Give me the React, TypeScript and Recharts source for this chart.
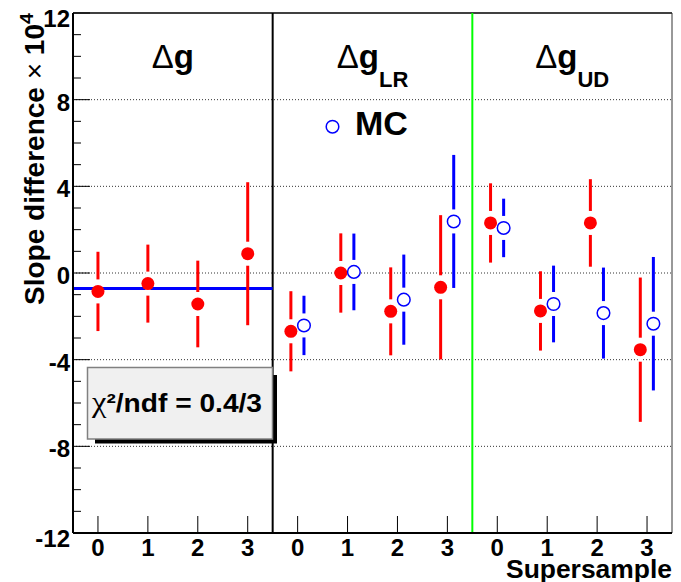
import React from 'react';
import {
    CartesianGrid,
    ErrorBar,
    ReferenceLine,
    Scatter,
    ScatterChart,
    XAxis,
    YAxis,
} from 'recharts';

// positions 0..11 on the x axis, four supersamples per panel
const samplePositions = [0, 1, 2, 3, 4, 5, 6, 7, 8, 9, 10, 11];
const sampleLabels = ['0', '1', '2', '3'];
const panelSubscripts = ['', 'LR', 'UD'];
const panelCenters = [1.5, 5.5, 9.5];
const panelEdges = [3.5, 7.5];

// data (red, filled)
const dataValues = [-0.85, -0.49, -1.43, 0.89, -2.69, 0.0, -1.77, -0.66, 2.31, -1.75, 2.31, -3.54];
const dataErrors = [1.83, 1.8, 2.0, 3.3, 1.85, 1.83, 2.03, 3.33, 1.83, 1.83, 2.02, 3.33];

// MC (blue, open) only in the LR and UD panels
const mcPositions = [4, 5, 6, 7, 8, 9, 10, 11];
const mcValues = [-2.42, 0.05, -1.23, 2.38, 2.08, -1.43, -1.85, -2.34];
const mcErrors = [1.37, 1.77, 2.08, 3.07, 1.35, 1.77, 2.1, 3.08];

const fitValue = -0.72;
const gridValues = [-8, -4, 0, 4, 8];
const yTicks = [
    -12, -11, -10, -9, -8, -7, -6, -5, -4, -3, -2, -1, 0, 1, 2, 3, 4, 5, 6, 7, 8, 9, 10, 11, 12,
];

const W = 681;
const H = 582;
const LEFT = 73;
const TOP = 13;
const RIGHT = 672;
const BOTTOM = 533;
const FONT = '"Liberation Sans", Arial, Helvetica, sans-serif';

const RED = '#ff0000';
const BLUE = '#0000ff';

const dataPoints = samplePositions.map((p, i) => ({
    x: p < 4 ? p : p - 0.135,
    y: dataValues[i],
    err: dataErrors[i],
}));

const mcPoints = mcPositions.map((p, i) => ({
    x: p + 0.127,
    y: mcValues[i],
    err: mcErrors[i],
}));

const toPx = (v: number) => LEFT + ((v + 0.5) / 12) * (RIGHT - LEFT);

const RedDot = (props: any) => {
    const { cx, cy } = props;
    return (
        <g>
            <rect x={cx - 2.5} y={cy - 12} width={5} height={24} fill="#fff" />
            <circle cx={cx} cy={cy} r={6.5} fill={RED} />
        </g>
    );
};

const BlueDot = (props: any) => {
    const { cx, cy } = props;
    return (
        <g>
            <rect x={cx - 2.5} y={cy - 12} width={5} height={24} fill="#fff" />
            <circle cx={cx} cy={cy} r={6.3} fill="#fff" stroke={BLUE} strokeWidth={1.5} />
        </g>
    );
};

const YTick = (props: any) => {
    const { x, y, payload } = props;
    const v = payload.value;
    const major = v % 4 === 0;
    const dy = Math.abs(v) === 12 ? 14 : 11;
    return (
        <g>
            <line x1={x} y1={y} x2={x + (major ? 17 : 8)} y2={y} stroke="#000" strokeWidth={1} />
            {major && (
                <text
                    x={x - 3}
                    y={y + dy}
                    textAnchor="end"
                    fontFamily={FONT}
                    fontWeight="bold"
                    fontSize={24}
                    fill="#000"
                >
                    {v}
                </text>
            )}
        </g>
    );
};

const XTick = (props: any) => {
    const { x, y, payload } = props;
    return (
        <g>
            <line x1={x} y1={y} x2={x} y2={y - 17} stroke="#000" strokeWidth={1} />
            <text
                x={x}
                y={y + 23}
                textAnchor="middle"
                fontFamily={FONT}
                fontWeight="bold"
                fontSize={24}
                fill="#000"
            >
                {sampleLabels[payload.value % 4]}
            </text>
        </g>
    );
};

export default function App() {
    return (
        <div style={{ position: 'absolute', left: 0, top: 0, width: W, height: H, background: '#fff' }}>
            <ScatterChart
                width={W}
                height={H}
                margin={{ top: TOP, right: W - RIGHT, bottom: 0, left: 0 }}
            >
                <CartesianGrid
                    vertical={false}
                    horizontalValues={gridValues}
                    stroke="#333"
                    strokeDasharray="1 2"
                />
                <XAxis
                    type="number"
                    dataKey="x"
                    domain={[-0.5, 11.5]}
                    ticks={samplePositions}
                    interval={0}
                    tick={(p: any) => <XTick {...p} />}
                    tickLine={false}
                    tickSize={0}
                    tickMargin={0}
                    height={H - BOTTOM}
                    axisLine={{ stroke: '#000', strokeWidth: 2 }}
                    allowDataOverflow
                />
                <YAxis
                    type="number"
                    dataKey="y"
                    domain={[-12, 12]}
                    ticks={yTicks}
                    interval={0}
                    tick={(p: any) => <YTick {...p} />}
                    tickLine={false}
                    tickSize={0}
                    tickMargin={0}
                    width={LEFT}
                    axisLine={{ stroke: '#000', strokeWidth: 2 }}
                    allowDataOverflow
                />
                <ReferenceLine y={12} stroke="#000" strokeWidth={1.5} />
                <ReferenceLine x={11.5} stroke="#333" strokeWidth={1} />
                <ReferenceLine x={panelEdges[0]} stroke="#000" strokeWidth={2} />
                <ReferenceLine x={panelEdges[1]} stroke="#00ff00" strokeWidth={2} />
                <ReferenceLine
                    segment={[
                        { x: -0.5, y: fitValue },
                        { x: panelEdges[0], y: fitValue },
                    ]}
                    stroke={BLUE}
                    strokeWidth={3}
                />
                <Scatter data={dataPoints} shape={RedDot} isAnimationActive={false}>
                    <ErrorBar dataKey="err" direction="y" width={0} stroke={RED} strokeWidth={3} />
                </Scatter>
                <Scatter data={mcPoints} shape={BlueDot} isAnimationActive={false}>
                    <ErrorBar dataKey="err" direction="y" width={0} stroke={BLUE} strokeWidth={3} />
                </Scatter>
            </ScatterChart>

            <svg
                width={W}
                height={H}
                style={{ position: 'absolute', left: 0, top: 0, pointerEvents: 'none' }}
                fontFamily={FONT}
            >
                {panelCenters.map((c, i) => (
                    <text key={i} x={toPx(c)} y={68} textAnchor="middle" fontSize={33} fill="#000">
                        <tspan fontWeight="normal">Δ</tspan>
                        <tspan fontWeight="bold">g</tspan>
                        {panelSubscripts[i] && (
                            <tspan fontWeight="bold" fontSize={22} dy={19}>
                                {panelSubscripts[i]}
                            </tspan>
                        )}
                    </text>
                ))}

                <circle cx={332.5} cy={126.7} r={6.3} fill="#fff" stroke={BLUE} strokeWidth={1.5} />
                <text x={355} y={135} fontSize={34} fontWeight="bold" fill="#000">
                    MC
                </text>

                <rect x={95} y={375} width={182} height={68.5} fill="#000" />
                <rect x={87.5} y={367.5} width={185} height={71.5} fill="#f0f0f0" stroke="#808080" strokeWidth={1.5} />
                <text
                    x={92}
                    y={411.5}
                    fontSize={26}
                    fill="#000"
                    textLength={170}
                    lengthAdjust="spacingAndGlyphs"
                >
                    <tspan fontFamily='"Liberation Serif", "Times New Roman", serif' fontSize={30}>
                        χ
                    </tspan>
                    <tspan fontWeight="bold">{'²/ndf = 0.4/3'}</tspan>
                </text>

                <text
                    transform="translate(43.5,13) rotate(-90)"
                    textAnchor="end"
                    fontSize={27}
                    fontWeight="bold"
                    fill="#000"
                    textLength={292}
                    lengthAdjust="spacingAndGlyphs"
                >
                    {'Slope difference '}
                    <tspan fontWeight="normal">×</tspan>
                    {' 10'}
                    <tspan fontSize={19} dy={-11}>
                        4
                    </tspan>
                </text>

                <text
                    x={RIGHT}
                    y={578}
                    textAnchor="end"
                    fontSize={25}
                    fontWeight="bold"
                    fill="#000"
                    textLength={166}
                    lengthAdjust="spacingAndGlyphs"
                >
                    Supersample
                </text>
            </svg>
        </div>
    );
}
